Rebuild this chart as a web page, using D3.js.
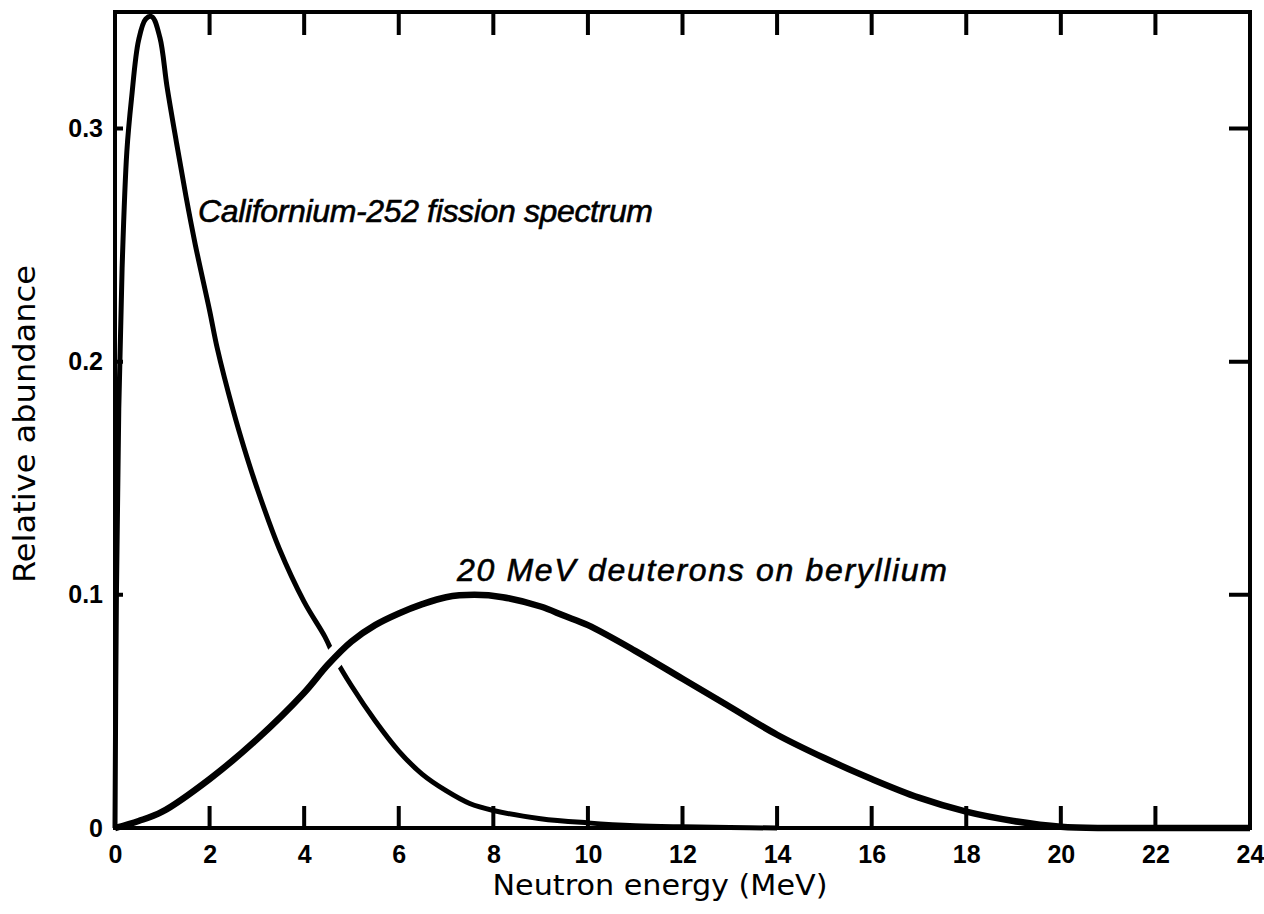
<!DOCTYPE html>
<html>
<head>
<meta charset="utf-8">
<script src="https://cdn.jsdelivr.net/npm/d3@7"></script>
<style>
  body { margin: 0; background: #fff; }
  svg { display: block; }
</style>
</head>
<body>
<script>
var w = 1264; // page width
var h = 914;  // page height

// Californium-252 fission spectrum (MeV, relative abundance)
var energyCf = [0, 0.03, 0.08, 0.15, 0.25, 0.35, 0.5, 0.65, 0.78, 0.95, 1.1, 1.3, 1.5, 1.7, 2.0, 2.16, 2.5, 2.73, 3.0, 3.47, 4.0, 4.44, 4.65, 5.0, 5.5, 6.0, 6.5, 7.0, 7.5, 8.0, 9.0, 10, 11, 12, 13, 14];
var abundCf = [0, 0.1, 0.18, 0.24, 0.29, 0.313, 0.338, 0.347, 0.348, 0.339, 0.318, 0.294, 0.271, 0.25, 0.222, 0.206, 0.179, 0.163, 0.146, 0.12, 0.097, 0.082, 0.073, 0.061, 0.046, 0.033, 0.023, 0.016, 0.0105, 0.0075, 0.004, 0.0022, 0.001, 0.0005, 0.0002, 0];

// 20 MeV deuterons on beryllium
var energyDd = [0, 0.5, 1, 2, 3, 4, 4.5, 5, 5.5, 6, 6.5, 7, 7.6, 8.2, 9, 9.5, 10, 11, 12, 13, 14, 15, 16, 17, 18, 19, 20, 21, 22, 23, 24];
var abundDd = [0, 0.003, 0.007, 0.021, 0.038, 0.058, 0.07, 0.08, 0.087, 0.092, 0.096, 0.099, 0.1, 0.099, 0.095, 0.091, 0.087, 0.076, 0.064, 0.052, 0.04, 0.03, 0.021, 0.013, 0.007, 0.003, 0.0005, 0, 0, 0, 0];

// Axis ticks
var xTicks = [0, 2, 4, 6, 8, 10, 12, 14, 16, 18, 20, 22, 24];
var xInnerTicks = [2, 4, 6, 8, 10, 12, 14, 16, 18, 20, 22];
var yTicks = [0, 0.1, 0.2, 0.3];
var yInnerTicks = [0.1, 0.2, 0.3];

var cfData = energyCf.map(function(e, i) { return [e, abundCf[i]]; });
var ddData = energyDd.map(function(e, i) { return [e, abundDd[i]]; });

// Scales
var xScale = d3.scaleLinear().domain([0, 24]).range([115, 1250]);
var yScale = d3.scaleLinear().domain([0, 0.35]).range([828, 12]);

var svg = d3.select("body").append("svg")
    .attr("width", w)
    .attr("height", h);

// Frame and inward tick marks as one path, built from the scales
var x0 = xScale(0), x1 = xScale(24), y0 = yScale(0), y1 = yScale(0.35);
var framePath = d3.path();
framePath.rect(x0, y1, x1 - x0, y0 - y1);
xInnerTicks.forEach(function(d) {
    framePath.moveTo(xScale(d), y0);
    framePath.lineTo(xScale(d), y0 - 22);   // bottom tick
    framePath.moveTo(xScale(d), y1);
    framePath.lineTo(xScale(d), y1 + 23);   // top tick
});
yInnerTicks.forEach(function(d) {
    framePath.moveTo(x0, yScale(d));
    framePath.lineTo(x0 + 8, yScale(d));    // left tick (short)
    framePath.moveTo(x1, yScale(d));
    framePath.lineTo(x1 - 21, yScale(d));   // right tick
});

var curveLine = d3.line()
    .x(function(d) { return xScale(d[0]); })
    .y(function(d) { return Math.min(yScale(d[1]), 828); })
    .curve(d3.curveCatmullRom.alpha(0.5));

// Clip for the white gap where the curves cross
svg.append("defs").append("clipPath").attr("id", "gapClip")
  .append("rect")
    .attr("x", xScale(4.2))
    .attr("y", 0)
    .attr("width", xScale(5.2) - xScale(4.2))
    .attr("height", h);

// Californium curve
svg.append("path")
    .attr("d", curveLine(cfData))
    .attr("fill", "none")
    .attr("stroke", "#000")
    .attr("stroke-width", 5)
    .attr("stroke-linejoin", "round");

// white halo under the deuteron curve, only at the crossing
svg.append("path")
    .attr("d", curveLine(ddData))
    .attr("clip-path", "url(#gapClip)")
    .attr("fill", "none")
    .attr("stroke", "#fff")
    .attr("stroke-width", 20);

// Deuteron curve
svg.append("path")
    .attr("d", curveLine(ddData))
    .attr("fill", "none")
    .attr("stroke", "#000")
    .attr("stroke-width", 6.5)
    .attr("stroke-linejoin", "round");

// Frame with ticks
svg.append("path")
    .attr("d", framePath.toString())
    .attr("fill", "none")
    .attr("stroke", "#000")
    .attr("stroke-width", 4);

// Tick labels from the axes
var fmtY = function(d) { return d === 0 ? "0" : d.toFixed(1); };

var gx = svg.append("g")
    .attr("transform", "translate(0,828)")
    .call(d3.axisBottom(xScale).tickValues(xTicks).tickSize(0).tickPadding(17));

var gy = svg.append("g")
    .attr("transform", "translate(115,0)")
    .call(d3.axisLeft(yScale).tickValues(yTicks).tickSize(0).tickPadding(12).tickFormat(fmtY));

[gx, gy].forEach(function(g) {
    g.select(".domain").remove();
    g.selectAll(".tick line").remove();
    g.selectAll(".tick text")
        .attr("fill", "#000")
        .style("font-family", "'Liberation Sans', Arial, sans-serif")
        .style("font-size", "25px")
        .style("font-weight", "bold");
});

// Axis titles
svg.append("text")
    .attr("x", 660)
    .attr("y", 895)
    .attr("text-anchor", "middle")
    .attr("textLength", 335)
    .attr("lengthAdjust", "spacingAndGlyphs")
    .attr("fill", "#000")
    .style("font-family", "'DejaVu Sans', sans-serif")
    .style("font-size", "29px")
    .text("Neutron energy (MeV)");

svg.append("text")
    .attr("transform", "translate(35,424) rotate(-90)")
    .attr("text-anchor", "middle")
    .attr("textLength", 318)
    .attr("lengthAdjust", "spacingAndGlyphs")
    .attr("fill", "#000")
    .style("font-family", "'DejaVu Sans', sans-serif")
    .style("font-size", "30px")
    .text("Relative abundance");

// Curve labels
svg.append("text")
    .attr("x", 198)
    .attr("y", 222)
    .attr("textLength", 455)
    .attr("lengthAdjust", "spacing")
    .attr("fill", "#000")
    .style("font-family", "'Liberation Sans', Arial, sans-serif")
    .style("font-size", "32px")
    .style("font-style", "italic")
    .style("stroke", "#000")
    .style("stroke-width", 0.6)
    .text("Californium-252 fission spectrum");

svg.append("text")
    .attr("x", 457)
    .attr("y", 581)
    .attr("textLength", 490)
    .attr("lengthAdjust", "spacing")
    .attr("fill", "#000")
    .style("font-family", "'Liberation Sans', Arial, sans-serif")
    .style("font-size", "32px")
    .style("font-style", "italic")
    .style("stroke", "#000")
    .style("stroke-width", 0.6)
    .text("20 MeV deuterons on beryllium");
</script>
</body>
</html>
